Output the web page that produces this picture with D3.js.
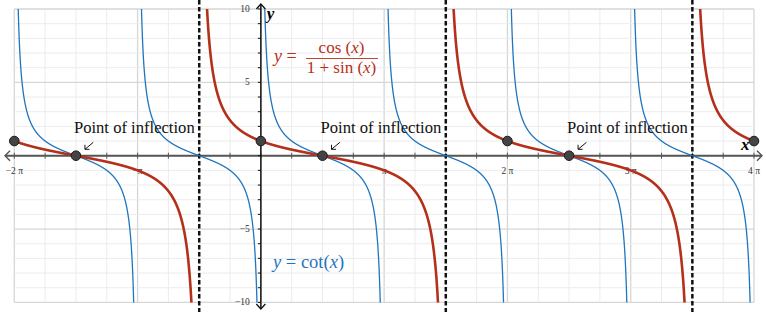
<!DOCTYPE html>
<html>
<head>
<meta charset="utf-8">
<script src="https://cdn.jsdelivr.net/npm/d3@7"></script>
<style>
  body { margin: 0; background: #fff; }
  svg { display: block; }
</style>
</head>
<body>
<div id="chart"></div>
<script>
var PI = Math.PI;

// Data
var xDomain = [-2 * PI, 4 * PI];
var yDomain = [-10, 10];
var xTickValues = [-2 * PI, -PI, PI, 2 * PI, 3 * PI, 4 * PI];
var xTickLabels = ["\u22122 \u03c0", "\u2212\u03c0", "\u03c0", "2 \u03c0", "3 \u03c0", "4 \u03c0"];
var yTickValues = [10, 5, -5, -10];
var yTickLabels = ["10", "5", "\u22125", "\u221210"];
var asymptotesRed = [-PI / 2, 3 * PI / 2, 7 * PI / 2];
var asymptotesBlue = [-2 * PI, -PI, 0, PI, 2 * PI, 3 * PI, 4 * PI];
var dotX = [-2 * PI, 0, 2 * PI, 4 * PI];
var inflectionX = [-3 * PI / 2, PI / 2, 5 * PI / 2];

var fRed = function(x) { return Math.cos(x) / (1 + Math.sin(x)); };
var fBlue = function(x) { return Math.cos(x) / Math.sin(x); };

var RED = "#b5301a";
var BLUE = "#1f75be";
var SERIF = "'Liberation Serif'";

var width = 766, height = 312;
var margins = { left: 14.3, right: 12, top: 9, bottom: 9.6 };

var svg = d3.select("#chart").append("svg")
  .attr("width", width)
  .attr("height", height);

// text helper so every label gets the serif face directly
var addText = function(parent, x, y, size) {
  return parent.append("text")
    .attr("x", x).attr("y", y)
    .attr("font-family", SERIF)
    .attr("font-size", size);
};

var xScale = d3.scaleLinear().domain(xDomain).range([margins.left, width - margins.right]);
var yScale = d3.scaleLinear().domain(yDomain).range([height - margins.bottom, margins.top]);

svg.append("defs").append("clipPath").attr("id", "plot-clip")
  .append("rect")
  .attr("x", xScale(xDomain[0]))
  .attr("y", yScale(10))
  .attr("width", xScale(xDomain[1]) - xScale(xDomain[0]))
  .attr("height", yScale(-10) - yScale(10));

// Grid
var minorX = d3.range(-8, 17).map(function(i) { return i * PI / 4; });
var minorY = d3.range(-10, 11);
var grid = svg.append("g").attr("class", "grid");

grid.selectAll(".gx").data(minorX).enter().append("line")
  .attr("x1", function(d) { return xScale(d); })
  .attr("x2", function(d) { return xScale(d); })
  .attr("y1", yScale(10)).attr("y2", yScale(-10))
  .attr("stroke", function(d, i) { return (i % 4 === 0) ? "#d6d6d6" : "#ececec"; })
  .attr("stroke-width", function(d, i) { return (i % 4 === 0) ? 1.3 : 1; });

grid.selectAll(".gy").data(minorY).enter().append("line")
  .attr("y1", function(d) { return yScale(d); })
  .attr("y2", function(d) { return yScale(d); })
  .attr("x1", xScale(xDomain[0])).attr("x2", xScale(xDomain[1]))
  .attr("stroke", function(d) { return (d % 5 === 0) ? "#d6d6d6" : "#ececec"; })
  .attr("stroke-width", function(d) { return (d % 5 === 0) ? 1.3 : 1; });

// Axes
var axisColor = "#555";
svg.append("line")
  .attr("x1", 5).attr("x2", width - 4)
  .attr("y1", yScale(0)).attr("y2", yScale(0))
  .attr("stroke", axisColor).attr("stroke-width", 2);
svg.append("path")
  .attr("d", "M" + (width - 9) + "," + (yScale(0) - 5) + " L" + (width - 4) + "," + yScale(0) + " L" + (width - 9) + "," + (yScale(0) + 5))
  .attr("fill", "none").attr("stroke", axisColor).attr("stroke-width", 1.4);
svg.append("path")
  .attr("d", "M10," + (yScale(0) - 5) + " L5," + yScale(0) + " L10," + (yScale(0) + 5))
  .attr("fill", "none").attr("stroke", axisColor).attr("stroke-width", 1.4);

// x ticks
svg.append("g").selectAll("line").data(minorX).enter().append("line")
  .attr("x1", function(d) { return xScale(d); })
  .attr("x2", function(d) { return xScale(d); })
  .attr("y1", yScale(0) - 3).attr("y2", yScale(0) + 3)
  .attr("stroke", axisColor).attr("stroke-width", 1);

var xLabels = svg.append("g");
xTickValues.forEach(function(d, i) {
  addText(xLabels, xScale(d), yScale(0) + 18.5, 9.5)
    .attr("fill", "#333")
    .attr("text-anchor", "middle")
    .text(xTickLabels[i]);
});

// y axis
var y0 = xScale(0);
svg.append("line")
  .attr("x1", y0).attr("x2", y0)
  .attr("y1", 4).attr("y2", height - 3)
  .attr("stroke", "#111").attr("stroke-width", 1.5);
svg.append("path")
  .attr("d", "M" + (y0 - 4.5) + ",9 L" + y0 + ",4 L" + (y0 + 4.5) + ",9")
  .attr("fill", "none").attr("stroke", "#111").attr("stroke-width", 1.3);
svg.append("path")
  .attr("d", "M" + (y0 - 4.5) + "," + (height - 8) + " L" + y0 + "," + (height - 3) + " L" + (y0 + 4.5) + "," + (height - 8))
  .attr("fill", "none").attr("stroke", "#111").attr("stroke-width", 1.3);

svg.append("g").selectAll("line").data(minorY).enter().append("line")
  .attr("y1", function(d) { return yScale(d); })
  .attr("y2", function(d) { return yScale(d); })
  .attr("x1", y0 - 3).attr("x2", y0)
  .attr("stroke", "#111").attr("stroke-width", 1);

var yLabels = svg.append("g");
yTickValues.forEach(function(d, i) {
  addText(yLabels, y0 - 11, yScale(d) + 3, 9.5)
    .attr("fill", "#333")
    .attr("text-anchor", "end")
    .text(yTickLabels[i]);
});

// Axis labels
addText(svg, y0 + 6, 18.5, 17)
  .attr("font-style", "italic").attr("font-weight", "bold")
  .text("y");
addText(svg, 741, 150, 17)
  .attr("font-style", "italic").attr("font-weight", "bold")
  .text("x");

// Asymptotes
svg.append("g").selectAll("line").data(asymptotesRed).enter().append("line")
  .attr("x1", function(d) { return xScale(d); })
  .attr("x2", function(d) { return xScale(d); })
  .attr("y1", 0).attr("y2", height)
  .attr("stroke", "#111").attr("stroke-width", 2.5)
  .attr("stroke-dasharray", "4.5,2.5");

// Curves
var line = d3.line()
  .x(function(d) { return xScale(d[0]); })
  .y(function(d) { return yScale(d[1]); });

function branches(f, breaks) {
  var out = [];
  for (var i = 0; i < breaks.length - 1; i++) {
    var a = breaks[i], b = breaks[i + 1], pts = [];
    for (var k = 1; k < 1200; k++) {
      var x = a + (b - a) * k / 1200;
      var y = f(x);
      if (Math.abs(y) < 40) pts.push([x, y]);
    }
    out.push(pts);
  }
  return out;
}

var curves = svg.append("g").attr("clip-path", "url(#plot-clip)");

curves.selectAll(".blue").data(branches(fBlue, asymptotesBlue)).enter().append("path")
  .attr("d", line)
  .attr("fill", "none").attr("stroke", BLUE).attr("stroke-width", 1.3);

var redBreaks = [xDomain[0]].concat(asymptotesRed).concat([xDomain[1]]);
var redBranches = branches(fRed, redBreaks);
redBranches[0].unshift([xDomain[0], fRed(xDomain[0])]);
redBranches[redBranches.length - 1].push([xDomain[1], fRed(xDomain[1])]);
curves.selectAll(".red").data(redBranches).enter().append("path")
  .attr("d", line)
  .attr("fill", "none").attr("stroke", RED).attr("stroke-width", 2.6);

// Points
var allDots = dotX.concat(inflectionX);
svg.append("g").selectAll("circle").data(allDots).enter().append("circle")
  .attr("cx", function(d) { return xScale(d); })
  .attr("cy", function(d) { return yScale(fRed(d)); })
  .attr("r", 4.8)
  .attr("fill", "#444").attr("stroke", "#1a1a1a").attr("stroke-width", 1);

// Inflection notes
var notes = svg.append("g");
inflectionX.forEach(function(d) {
  var px = xScale(d), py = yScale(0);
  addText(notes, px - 2, py - 22.4, 16.6)
    .attr("fill", "#111")
    .text("Point of inflection");
  var x1 = px + 17.4, y1 = py - 13.4, x2 = px + 9, y2 = py - 6.4;
  notes.append("line")
    .attr("x1", x1).attr("y1", y1).attr("x2", x2).attr("y2", y2)
    .attr("stroke", "#111").attr("stroke-width", 1);
  notes.append("path")
    .attr("d", "M" + (x2 + 4.5) + "," + y2 + " L" + x2 + "," + y2 + " L" + x2 + "," + (y2 - 4.5))
    .attr("fill", "none").attr("stroke", "#111").attr("stroke-width", 1);
});

// Formula labels
var redLabel = svg.append("g").attr("fill", RED);
addText(redLabel, 274, 62, 18)
  .html('<tspan font-style="italic">y</tspan> =');
addText(redLabel, 341.5, 53, 17).attr("text-anchor", "middle")
  .html('cos (<tspan font-style="italic">x</tspan>)');
redLabel.append("line").attr("x1", 306).attr("x2", 378).attr("y1", 58.5).attr("y2", 58.5)
  .attr("stroke", RED).attr("stroke-width", 0.9);
addText(redLabel, 341.5, 73, 17).attr("text-anchor", "middle")
  .html('1 + sin (<tspan font-style="italic">x</tspan>)');

addText(svg, 273, 268, 18.5).attr("fill", BLUE)
  .html('<tspan font-style="italic">y</tspan> = cot(<tspan font-style="italic">x</tspan>)');
</script>
</body>
</html>
